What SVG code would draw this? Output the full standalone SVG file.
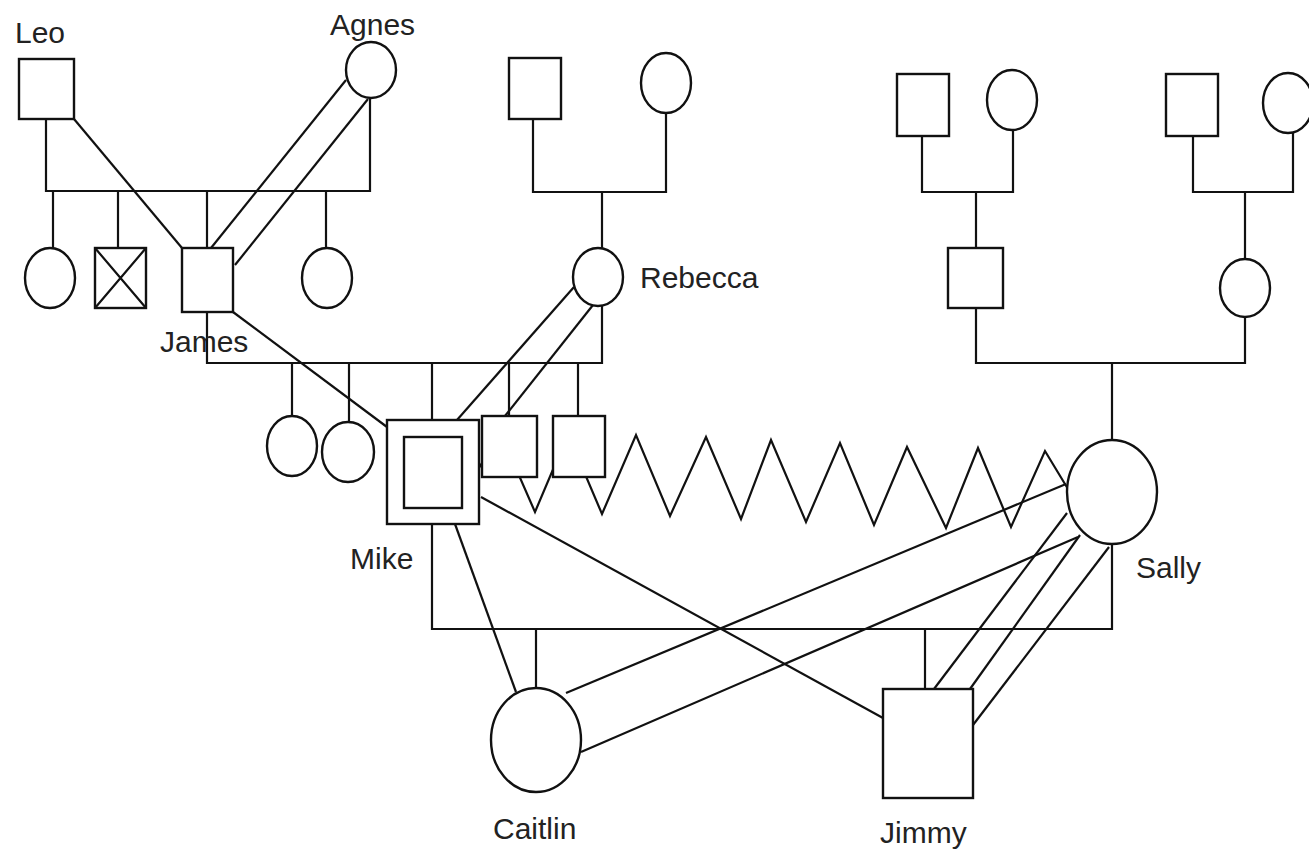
<svg xmlns="http://www.w3.org/2000/svg" width="1309" height="856" viewBox="0 0 1309 856">
<style>
.l{fill:none;stroke:#111;stroke-width:2.2;stroke-linejoin:miter}
.n{fill:#fff;stroke:#111;stroke-width:2.4}
.t{font-family:"Liberation Sans",Arial,sans-serif;font-size:30px;fill:#222}
</style>
<rect width="1309" height="856" fill="#fff"/>
<g id="connectors" class="l">
<!-- Leo + Agnes family -->
<polyline points="46,119 46,191 370,191 370,99"/>
<line x1="53" y1="191" x2="53" y2="248"/>
<line x1="118" y1="191" x2="118" y2="248"/>
<line x1="207" y1="191" x2="207" y2="248"/>
<line x1="326" y1="191" x2="326" y2="248"/>
<line x1="74" y1="119" x2="182" y2="248"/>
<line x1="346" y1="80" x2="211" y2="248"/>
<line x1="368" y1="99" x2="235" y2="265"/>
<!-- Rebecca's parents -->
<polyline points="533,119 533,192 666,192 666,113"/>
<line x1="602" y1="192" x2="602" y2="248"/>
<!-- James + Rebecca family -->
<polyline points="207,312 207,363 602,363 602,306"/>
<line x1="292" y1="363" x2="292" y2="416"/>
<line x1="349" y1="363" x2="349" y2="422"/>
<line x1="432" y1="363" x2="432" y2="420"/>
<line x1="509" y1="363" x2="509" y2="416"/>
<line x1="578" y1="363" x2="578" y2="416"/>
<line x1="233" y1="312" x2="387" y2="427"/>
<line x1="574" y1="287" x2="457" y2="420"/>
<line x1="593" y1="305" x2="505" y2="416"/>
<!-- right grandparents -->
<polyline points="922,136 922,192 1013,192 1013,130"/>
<line x1="976" y1="192" x2="976" y2="248"/>
<polyline points="1193,136 1193,192 1293,192 1293,133"/>
<line x1="1245" y1="192" x2="1245" y2="259"/>
<polyline points="976,308 976,363 1245,363 1245,318"/>
<line x1="1112" y1="363" x2="1112" y2="440"/>
<!-- zigzag Mike - Sally -->
<polyline points="479,468 500,432 535,512 568,434 602,514 636,435 670,516 706,437 741,519 771,440 806,522 840,443 874,525 907,447 946,528 978,448 1011,527 1045,451 1068,489"/>
<!-- Mike + Sally family -->
<polyline points="432,524 432,629 1112,629 1112,543"/>
<line x1="536" y1="629" x2="536" y2="688"/>
<line x1="925" y1="629" x2="925" y2="689"/>
<line x1="455" y1="524" x2="516" y2="692"/>
<line x1="481" y1="497" x2="883" y2="718"/>
<line x1="1066" y1="484" x2="566" y2="693"/>
<line x1="1078" y1="537" x2="581" y2="752"/>
<line x1="1067" y1="513" x2="934" y2="689"/>
<line x1="1080" y1="535" x2="970" y2="689"/>
<line x1="1109" y1="547" x2="973" y2="725"/>
</g>
<g id="leo"><rect class="n" x="19" y="59" width="55" height="60"/><text class="t" x="15" y="43">Leo</text></g>
<g id="agnes"><ellipse class="n" cx="371" cy="70" rx="25" ry="28"/><text class="t" x="330" y="35">Agnes</text></g>
<g id="gf-rebecca"><rect class="n" x="509" y="58" width="52" height="61"/></g>
<g id="gm-rebecca"><ellipse class="n" cx="666" cy="83" rx="25" ry="30"/></g>
<g id="gf-sally-1"><rect class="n" x="897" y="74" width="52" height="62"/></g>
<g id="gm-sally-1"><ellipse class="n" cx="1012" cy="100" rx="25" ry="30"/></g>
<g id="gf-sally-2"><rect class="n" x="1166" y="74" width="52" height="62"/></g>
<g id="gm-sally-2"><ellipse class="n" cx="1288" cy="103" rx="25" ry="30"/></g>
<g id="sib-1"><ellipse class="n" cx="50" cy="278" rx="25" ry="30"/></g>
<g id="sib-2"><rect class="n" x="95" y="248" width="51" height="60"/><path class="l" d="M95,248 L146,308 M146,248 L95,308"/></g>
<g id="james"><rect class="n" x="182" y="248" width="51" height="64"/><text class="t" x="160" y="352">James</text></g>
<g id="sib-4"><ellipse class="n" cx="327" cy="278" rx="25" ry="30"/></g>
<g id="rebecca"><ellipse class="n" cx="598" cy="277" rx="25" ry="29"/><text class="t" x="640" y="288">Rebecca</text></g>
<g id="sally-father"><rect class="n" x="948" y="248" width="55" height="60"/></g>
<g id="sally-mother"><ellipse class="n" cx="1245" cy="288" rx="25" ry="29"/></g>
<g id="child-1"><ellipse class="n" cx="292" cy="446" rx="25" ry="30"/></g>
<g id="child-2"><ellipse class="n" cx="348" cy="452" rx="26" ry="30"/></g>
<g id="mike"><rect class="n" x="387" y="420" width="92" height="104"/><rect class="n" x="404" y="437" width="58" height="71"/><text class="t" x="350" y="569">Mike</text></g>
<g id="child-4"><rect class="n" x="482" y="416" width="55" height="61"/></g>
<g id="child-5"><rect class="n" x="553" y="416" width="52" height="61"/></g>
<g id="sally"><ellipse class="n" cx="1112" cy="492" rx="45" ry="52"/><text class="t" x="1136" y="578">Sally</text></g>
<g id="caitlin"><ellipse class="n" cx="536" cy="740" rx="45" ry="52"/><text class="t" x="493" y="839">Caitlin</text></g>
<g id="jimmy"><rect class="n" x="883" y="689" width="90" height="109"/><text class="t" x="880" y="843">Jimmy</text></g>
</svg>
